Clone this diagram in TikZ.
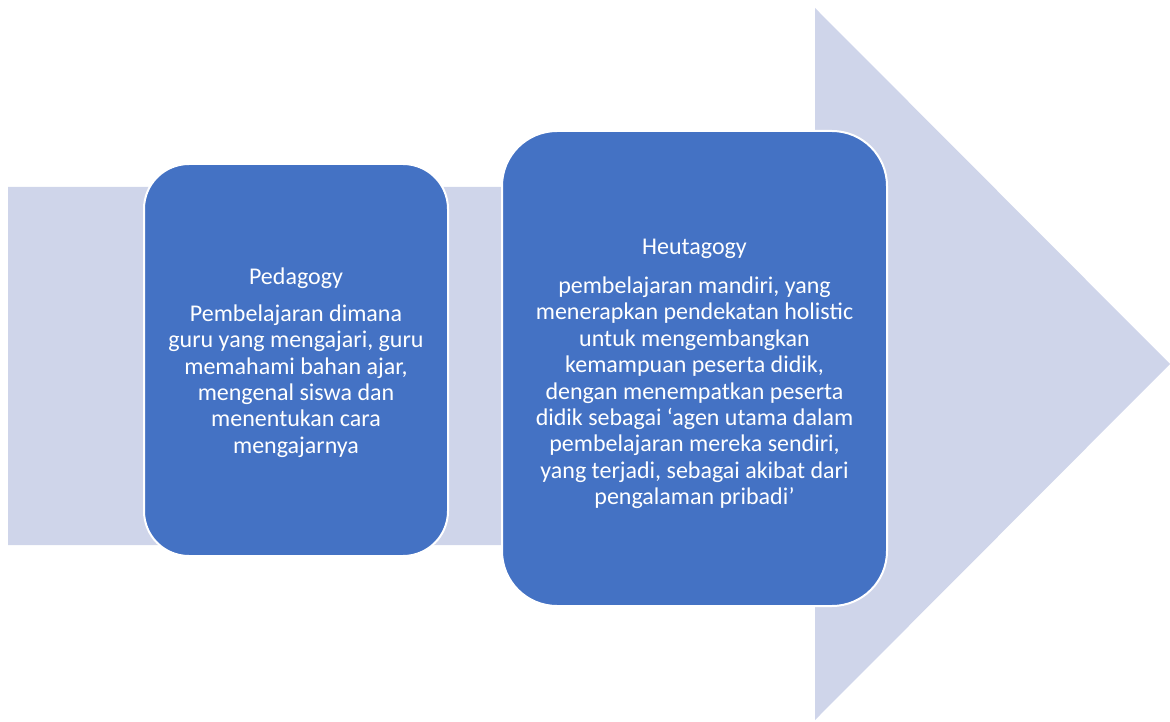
\documentclass[tikz,border=0pt]{standalone}
\usepackage{fontspec}
\setmainfont{Carlito}
\usepackage{tikz}

\definecolor{arrowlav}{RGB}{207,213,234}
\definecolor{boxblue}{RGB}{68,114,196}

\begin{document}
\begin{tikzpicture}[x=1pt, y=-1pt,
box_style/.style={rectangle, draw=white, line width=2pt, fill=boxblue, text=white, align=center, inner sep=0pt},
arrow_style/.style={fill=arrowlav, draw=none}]
\useasboundingbox (0,0) rectangle (1170,722);

% big arrow in the background
\fill[arrow_style] (8,187) -- (815,187) -- (815,8) -- (1170,364) -- (815,720) -- (815,545) -- (8,545) -- cycle;

\node[box_style, rounded corners=45pt, minimum width=304pt, minimum height=392pt,
  font=\fontsize{24}{26.3}\selectfont] (pedagogy) at (296,360)
  {\rule{0pt}{22pt}Pedagogy\\[10.5pt]
   Pembelajaran dimana\\
   guru yang mengajari, guru\\
   memahami bahan ajar,\\
   mengenal siswa dan\\
   menentukan cara\\
   mengajarnya};

\node[box_style, rounded corners=55pt, minimum width=385pt, minimum height=475pt,
  font=\fontsize{24}{26.4}\selectfont] (heutagogy) at (694.5,368.5)
  {\rule{0pt}{26pt}Heutagogy\\[13pt]
   pembelajaran mandiri, yang\\
   menerapkan pendekatan holistic\\
   untuk mengembangkan\\
   kemampuan peserta didik,\\
   dengan menempatkan peserta\\
   didik sebagai ‘agen utama dalam\\
   pembelajaran mereka sendiri,\\
   yang terjadi, sebagai akibat dari\\
   pengalaman pribadi’};
\end{tikzpicture}
\end{document}
